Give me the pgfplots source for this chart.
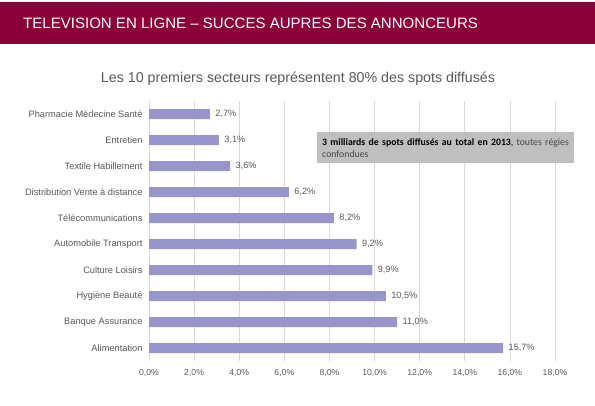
\documentclass[border=0pt]{standalone}
\usepackage{pgfplots}
\pgfplotsset{compat=1.18}
\usepackage{fontspec}
\setmainfont{Liberation Sans}
\newfontfamily\calib{Carlito}
\definecolor{maroon}{RGB}{140,0,58}
\definecolor{barc}{RGB}{152,149,204}
\definecolor{txt}{RGB}{89,89,89}
\definecolor{gridc}{RGB}{217,217,217}
\definecolor{boxc}{RGB}{191,191,191}
\begin{document}
\begin{tikzpicture}[x=1bp,y=1bp]
\fill[white] (0,0) rectangle (595,405);
\fill[maroon] (0,361) rectangle (595,403);
\node[anchor=west,text=white,inner sep=0] at (23,382) {\fontsize{15.1}{18}\selectfont TELEVISION EN LIGNE -- SUCCES AUPRES DES ANNONCEURS};
\node[text=txt,inner sep=0] at (298,326) {\fontsize{14.3}{17}\selectfont Les 10 premiers secteurs représentent 80\% des spots diffusés};
\begin{axis}[
  at={(149bp,44bp)}, anchor=south west,
  scale only axis, width=406bp, height=260bp,
  xbar, bar width=10bp,
  xmin=0, xmax=18, ymin=-0.5, ymax=9.5,
  xtick={0,2,...,18},
  ytick={0,...,9},
  yticklabels={Alimentation,Banque Assurance,Hygiène Beauté,Culture Loisirs,Automobile Transport,Télécommunications,Distribution Vente à distance,Textile Habillement,Entretien,Pharmacie Médecine Santé},
  xticklabel={\pgfmathprintnumber[fixed,fixed zerofill,precision=1,use comma]{\tick}\%},
  /pgf/number format/assume math mode=true,
  ticklabel style={font=\fontsize{8.7}{10}\selectfont, text=txt},
  yticklabel style={font=\fontsize{9.3}{11}\selectfont, xshift=-3bp},
  xticklabel style={yshift=-5bp},
  major tick length=0pt,
  axis line style={draw=none},
  xmajorgrids, grid style={gridc, line width=0.6pt},
  nodes near coords={\pgfmathprintnumber[fixed,fixed zerofill,precision=1,use comma]{\pgfplotspointmeta}\%},
  nodes near coords align={horizontal},
  nodes near coords style={font=\fontsize{9.2}{10}\selectfont, text=txt, xshift=2bp},
  point meta=explicit,
]
\addplot[fill=barc, draw=none] table[x=v, y=i, meta=v] {
i v
0 15.7
1 11.0
2 10.5
3 9.9
4 9.2
5 8.2
6 6.2
7 3.6
8 3.1
9 2.7
};
\end{axis}
\node[fill=boxc, anchor=north west, minimum width=257bp, minimum height=31bp, text width=247bp, align=left, inner xsep=5bp, inner ysep=3bp, text=black] at (317,273) {\calib\fontsize{9.8}{11}\selectfont\textbf{3 milliards de spots diffusés au total en 2013}, {\color{txt!80!black}toutes régies confondues}};
\end{tikzpicture}
\end{document}
